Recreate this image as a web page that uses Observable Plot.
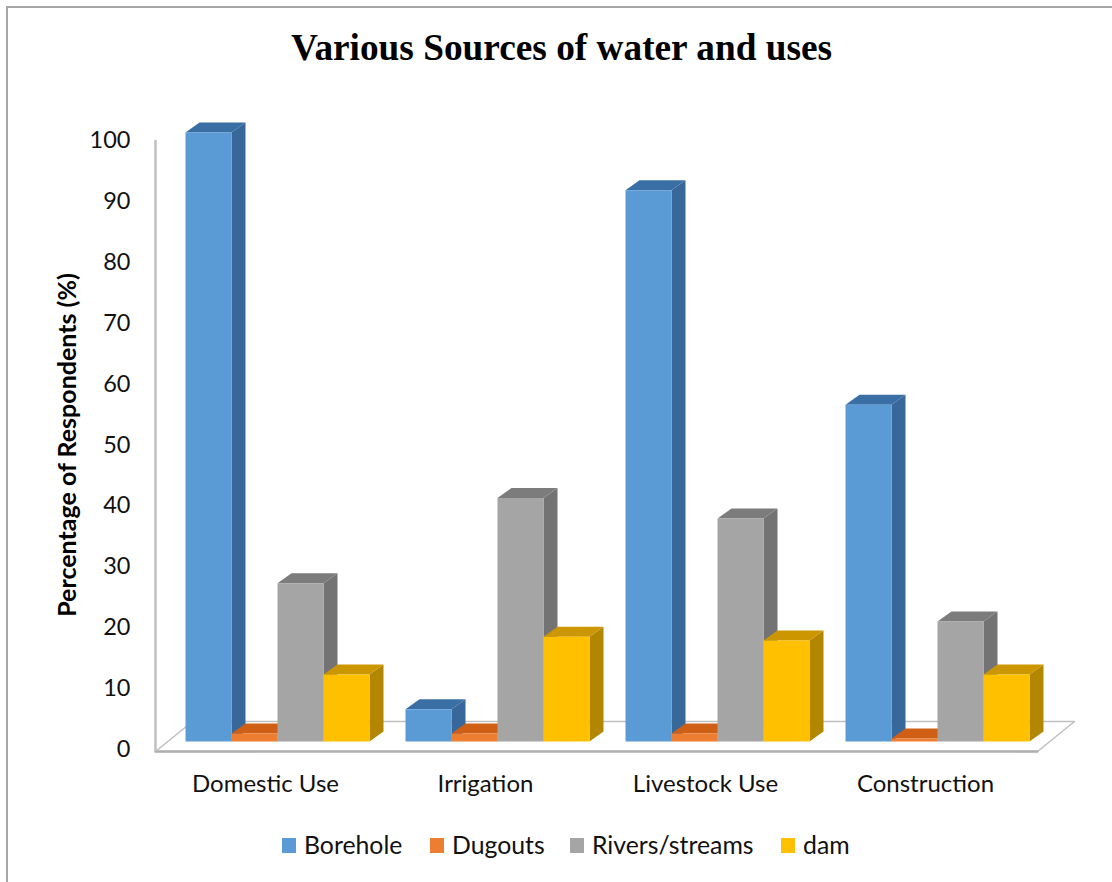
<!DOCTYPE html>
<html>
<head>
<meta charset="utf-8">
<script src="https://cdn.jsdelivr.net/npm/d3@7"></script>
<script src="https://cdn.jsdelivr.net/npm/@observablehq/plot@0.6"></script>
<style>
  html, body { margin: 0; padding: 0; background: #fff; }
  #page { position: relative; width: 1112px; height: 882px; overflow: hidden; }
  #frame { position: absolute; left: 6px; top: 6px; width: 1120px; height: 900px; border: 2px solid #a6a6a6; box-sizing: border-box; }
  #title { position: absolute; left: 0; top: 26px; width: 1123px; text-align: center; font: bold 37.3px "Liberation Serif", serif; color: #000; line-height: 44px; }
  #chart { position: absolute; left: 0; top: 90px; }
  #legend { position: absolute; left: 0; top: 828px; width: 1112px; height: 34px; font: 24.8px Lato, sans-serif; color: #111; }
  #legend span.key { position: absolute; top: 0; line-height: 34px; white-space: nowrap; }
  #legend span.key i { position: absolute; left: -22px; top: 10px; width: 14px; height: 15px; }
  svg { display: block; }
</style>
</head>
<body>
<div id="page">
  <div id="frame"></div>
  <div id="title">Various Sources of water and uses</div>
  <div id="chart"></div>
  <div id="legend"></div>
</div>
<script>
const categories = ["Domestic Use", "Irrigation", "Livestock Use", "Construction"];
const seriesNames = ["Borehole", "Dugouts", "Rivers/streams", "dam"];
const borehole = [100, 5.3, 90.5, 55.3];
const dugouts = [1.3, 1.3, 1.3, 0.5];
const rivers = [26, 40, 36.6, 19.7];
const dam = [11, 17.2, 16.6, 11];
const seriesValues = [borehole, dugouts, rivers, dam];

const frontColors = ["#5B9BD5", "#ED7D31", "#A5A5A5", "#FFC000"];
const sideColors = ["#38689A", "#B85A18", "#737373", "#B38600"];
const topColors = ["#3A6FA6", "#CF5F14", "#7C7C7C", "#CC9600"];

const tickValues = d3.range(0, 101, 10);
const legendLefts = [304, 452, 592, 803];

// Oblique projection of the bars: x in category units, y in percent.
const pxPerPercent = 6.09;
const barWidth = 46 / 220;
const groupStart = 30 / 220;
const baseShift = 8 / pxPerPercent;
const barDepthX = 14 / 220;
const barDepthY = 10 / pxPerPercent;
const floorDepthX = 37 / 220;
const floorDepthY = 30 / pxPerPercent;
const floorDrop = -2 / pxPerPercent;

const faces = [];
function addFace(id, fill, corners) {
  corners.forEach(([x, y]) => faces.push({id, fill, x, y}));
}
categories.forEach((category, i) => {
  seriesValues.forEach((values, s) => {
    const x0 = i + groupStart + s * barWidth;
    const x1 = x0 + barWidth;
    const y0 = baseShift;
    const y1 = values[i] + baseShift;
    const key = `${i}-${s}`;
    addFace(`${key}-side`, sideColors[s], [
      [x1, y0], [x1 + barDepthX, y0 + barDepthY], [x1 + barDepthX, y1 + barDepthY], [x1, y1]
    ]);
    addFace(`${key}-top`, topColors[s], [
      [x0, y1], [x1, y1], [x1 + barDepthX, y1 + barDepthY], [x0 + barDepthX, y1 + barDepthY]
    ]);
    addFace(`${key}-front`, frontColors[s], [
      [x0, y0], [x1, y0], [x1, y1], [x0, y1]
    ]);
  });
});

// Floor of the chart: closed outline plus a heavier front edge.
const floorFront = floorDrop;
const floorBack = floorDrop + floorDepthY;
const floorEnd = 4 + 2 / 220;
const floor = [
  {x: 0, y: floorFront},
  {x: floorEnd, y: floorFront},
  {x: floorEnd + floorDepthX, y: floorBack},
  {x: floorDepthX, y: floorBack},
  {x: 0, y: floorFront}
];

const fontFamily = "Lato, sans-serif";

const plot = Plot.plot({
  width: 1112,
  height: 720,
  marginTop: 50,
  marginBottom: 61,
  marginLeft: 155,
  marginRight: 77,
  style: {background: "transparent", overflow: "visible"},
  x: {domain: [0, 4], axis: null},
  y: {domain: [0, 100], axis: null},
  marks: [
    Plot.line(floor, {x: "x", y: "y", stroke: "#BFBFBF", strokeWidth: 1.5, fill: "#fff"}),
    Plot.line([{x: 0, y: floorFront}, {x: floorEnd, y: floorFront}], {x: "x", y: "y", stroke: "#B0B0B0", strokeWidth: 2.5}),
    Plot.ruleX([0], {y1: floorFront, y2: 100, stroke: "#BFBFBF", strokeWidth: 2.5}),
    Plot.line(faces, {x: "x", y: "y", z: "id", fill: {value: "fill", scale: null}, stroke: null}),
    Plot.axisY({
      ticks: tickValues,
      tickSize: 0,
      tickPadding: 25,
      label: null,
      fontSize: 23.5,
      fontFamily,
      fill: "#111"
    }),
    Plot.axisX({
      ticks: categories.map((c, i) => i + 0.5),
      tickFormat: (d) => categories[Math.floor(d)],
      tickSize: 0,
      tickPadding: 25,
      label: null,
      fontSize: 24,
      fontFamily,
      fill: "#111"
    }),
    Plot.text(["Percentage of Respondents (%)"], {
      text: (d) => d,
      frameAnchor: "left",
      textAnchor: "middle",
      dx: -88,
      rotate: -90,
      fontSize: 25,
      fontWeight: "bold",
      fontFamily,
      fill: "#000"
    })
  ]
});
document.getElementById("chart").append(plot);

// Legend row below the chart.
const legend = document.getElementById("legend");
seriesNames.forEach((name, s) => {
  const key = document.createElement("span");
  key.className = "key";
  key.style.left = legendLefts[s] + "px";
  key.textContent = name;
  const swatch = document.createElement("i");
  swatch.style.background = frontColors[s];
  key.prepend(swatch);
  legend.append(key);
});
</script>
</body>
</html>
